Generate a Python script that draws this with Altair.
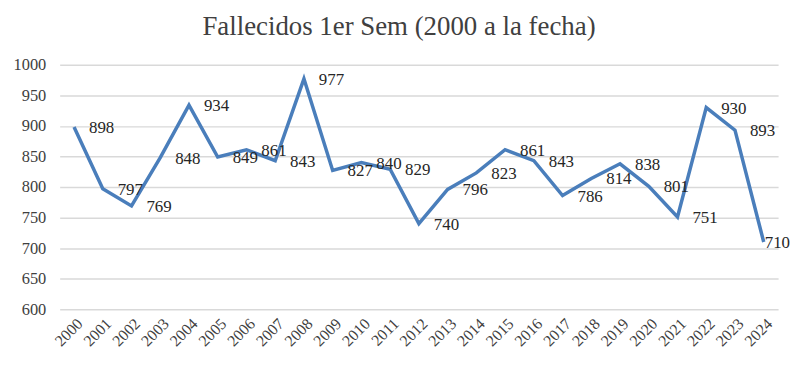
import altair as alt
import pandas as pd

years = [str(y) for y in range(2000, 2025)]
values = [898, 797, 769, 848, 934, 849, 861, 843, 977, 827, 840, 829, 740,
          796, 823, 861, 843, 786, 814, 838, 801, 751, 930, 893, 710]

df = pd.DataFrame({"year": years, "value": values})
df_main = df.iloc[:-1]
df_last = df.iloc[-1:]

FONT = "Liberation Serif"

x = alt.X("year:N", sort=years, title=None,
          scale=alt.Scale(type="point", padding=0.5),
          axis=alt.Axis(labelAngle=-45, labelFont=FONT, labelFontSize=16,
                        labelColor="#404040", domain=False, ticks=False,
                        labelPadding=6, labelOverlap=False))
y = alt.Y("value:Q", title=None,
          scale=alt.Scale(domain=[600, 1000], nice=False, zero=False),
          axis=alt.Axis(values=list(range(600, 1001, 50)), format="d",
                        labelFont=FONT, labelFontSize=16.5, labelColor="#404040",
                        domain=False, ticks=False, labelPadding=14,
                        gridColor="#d9d9d9", gridWidth=1.5))

line = alt.Chart(df).mark_line(color="#4a7ebb", strokeWidth=3.5).encode(x=x, y=y)
text = alt.Chart(df_main).mark_text(align="left", baseline="middle", dx=15, dy=1,
                                    font=FONT, fontSize=17, color="#262626").encode(
    x=x, y=y, text="value:Q")
text_last = alt.Chart(df_last).mark_text(align="left", baseline="middle", dx=1, dy=1,
                                         font=FONT, fontSize=17, color="#262626").encode(
    x=x, y=y, text="value:Q")

chart = (line + text + text_last).properties(
    width=723, height=246,
    autosize=alt.AutoSizeParams(type="none"),
    padding={"left": 52, "top": 56, "right": 14, "bottom": 52},
    title=alt.TitleParams("Fallecidos 1er Sem (2000 a la fecha)", font=FONT,
                          fontSize=27, fontWeight="normal", color="#404040",
                          anchor="middle", offset=16, dx=-20),
).configure_view(stroke=None)

chart.save("out.html", embed_options={"renderer": "svg", "actions": False})
